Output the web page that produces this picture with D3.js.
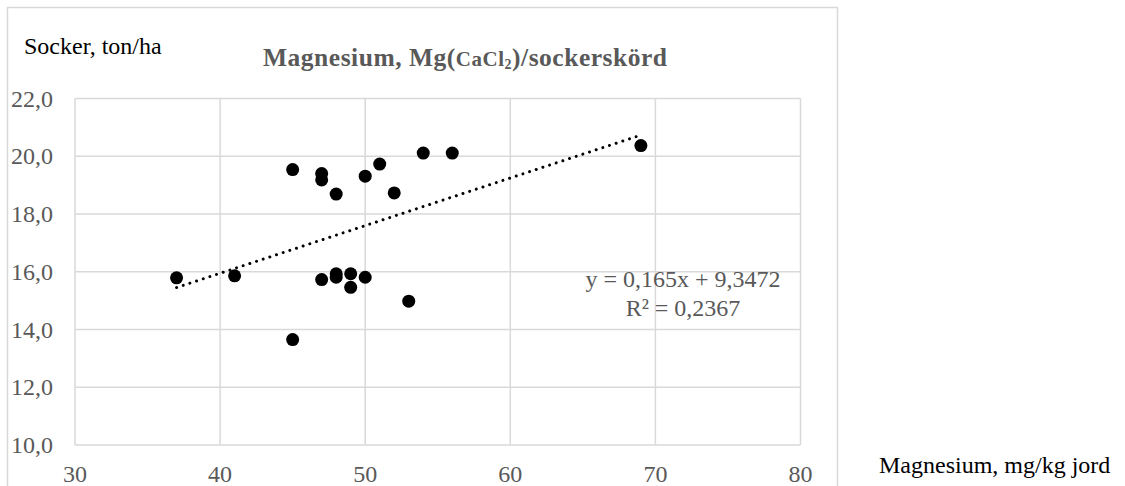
<!DOCTYPE html>
<html>
<head>
<meta charset="utf-8">
<script src="https://cdn.jsdelivr.net/npm/d3@7.9.0/dist/d3.min.js"></script>
<style>
  html, body { margin: 0; padding: 0; background: #fff; }
  svg { display: block; }
  svg text { font-family: "Liberation Serif", "Times New Roman", serif; }
</style>
</head>
<body>
<svg id="chart" width="1125" height="486"></svg>
<script>
// Mg (mg/kg jord) vs sockerskörd (ton/ha)
const magnesium = [37, 41, 45, 45, 47, 47, 47, 48, 48, 48, 49, 49, 50, 50, 51, 52, 53, 54, 56, 69];
const sugar = [15.79, 15.86, 19.54, 13.65, 19.40, 19.18, 15.73, 18.69, 15.93, 15.81,
               15.93, 15.46, 19.31, 15.81, 19.73, 18.73, 14.98, 20.11, 20.11, 20.37];

const xTicks = [30, 40, 50, 60, 70, 80];
const yTicks = [10, 12, 14, 16, 18, 20, 22];

// trendline from the chart's equation label
const trendSlope = 0.165;
const trendIntercept = 9.3472;
const trendLabel = "y = 0,165x + 9,3472";
const r2Label = "R² = 0,2367";

const svg = d3.select("#chart");

const x = d3.scaleLinear().domain([30, 80]).range([75, 800.5]);
const y = d3.scaleLinear().domain([10, 22]).range([445, 98.5]);

const svFormat = d3.formatLocale({ decimal: ",", thousands: " ", grouping: [3], currency: ["", " kr"] });
const fmtY = svFormat.format(".1f");

// outer chart frame
svg.append("rect")
  .attr("x", 7.5).attr("y", 7.5)
  .attr("width", 830).attr("height", 500)
  .attr("fill", "none")
  .attr("stroke", "#d9d9d9")
  .attr("stroke-width", 1.5);

// gridlines
const grid = svg.append("g").attr("stroke", "#d9d9d9").attr("stroke-width", 1.5);
grid.selectAll(".vx").data(xTicks).join("line")
  .attr("x1", (d) => x(d)).attr("x2", (d) => x(d))
  .attr("y1", y(22)).attr("y2", y(10));
grid.selectAll(".hy").data(yTicks).join("line")
  .attr("x1", x(30)).attr("x2", x(80))
  .attr("y1", (d) => y(d)).attr("y2", (d) => y(d));

// tick labels
svg.append("g").selectAll("text").data(yTicks).join("text")
  .attr("x", 53)
  .attr("y", (d) => y(d) + 8)
  .attr("text-anchor", "end")
  .attr("font-size", 24)
  .attr("fill", "#595959")
  .text((d) => fmtY(d));

svg.append("g").selectAll("text").data(xTicks).join("text")
  .attr("x", (d) => x(d))
  .attr("y", 482)
  .attr("text-anchor", "middle")
  .attr("font-size", 24)
  .attr("fill", "#595959")
  .text((d) => d);

// trendline
const xMin = d3.min(magnesium), xMax = d3.max(magnesium);
svg.append("line")
  .attr("x1", x(xMin)).attr("y1", y(trendSlope * xMin + trendIntercept))
  .attr("x2", x(xMax)).attr("y2", y(trendSlope * xMax + trendIntercept))
  .attr("stroke", "#000")
  .attr("stroke-width", 3)
  .attr("stroke-linecap", "round")
  .attr("stroke-dasharray", "0.01 7");

// points
svg.append("g").selectAll("circle").data(magnesium).join("circle")
  .attr("cx", (d) => x(d))
  .attr("cy", (d, i) => y(sugar[i]))
  .attr("r", 6.5)
  .attr("fill", "#000");

// equation
svg.append("text")
  .attr("x", 683).attr("y", 287)
  .attr("text-anchor", "middle")
  .attr("font-size", 24).attr("fill", "#595959")
  .text(trendLabel);
svg.append("text")
  .attr("x", 683).attr("y", 316)
  .attr("text-anchor", "middle")
  .attr("font-size", 24).attr("fill", "#595959")
  .text(r2Label);

// axis titles
svg.append("text")
  .attr("x", 24).attr("y", 54)
  .attr("font-size", 24).attr("fill", "#000")
  .text("Socker, ton/ha");
svg.append("text")
  .attr("x", 879).attr("y", 473)
  .attr("font-size", 24).attr("fill", "#000")
  .text("Magnesium, mg/kg jord");

// chart title with smaller CaCl2 part
const title = svg.append("text")
  .attr("x", 263).attr("y", 66)
  .attr("font-weight", "bold")
  .attr("fill", "#595959")
  .attr("font-size", 25.5)
  .attr("textLength", 404)
  .attr("lengthAdjust", "spacing");
title.append("tspan").text("Magnesium, Mg(");
title.append("tspan").attr("font-size", 21).text("CaCl");
title.append("tspan").attr("font-size", 14).attr("dy", 3).text("2");
title.append("tspan").attr("dy", -3).text(")/sockerskörd");
</script>
</body>
</html>
